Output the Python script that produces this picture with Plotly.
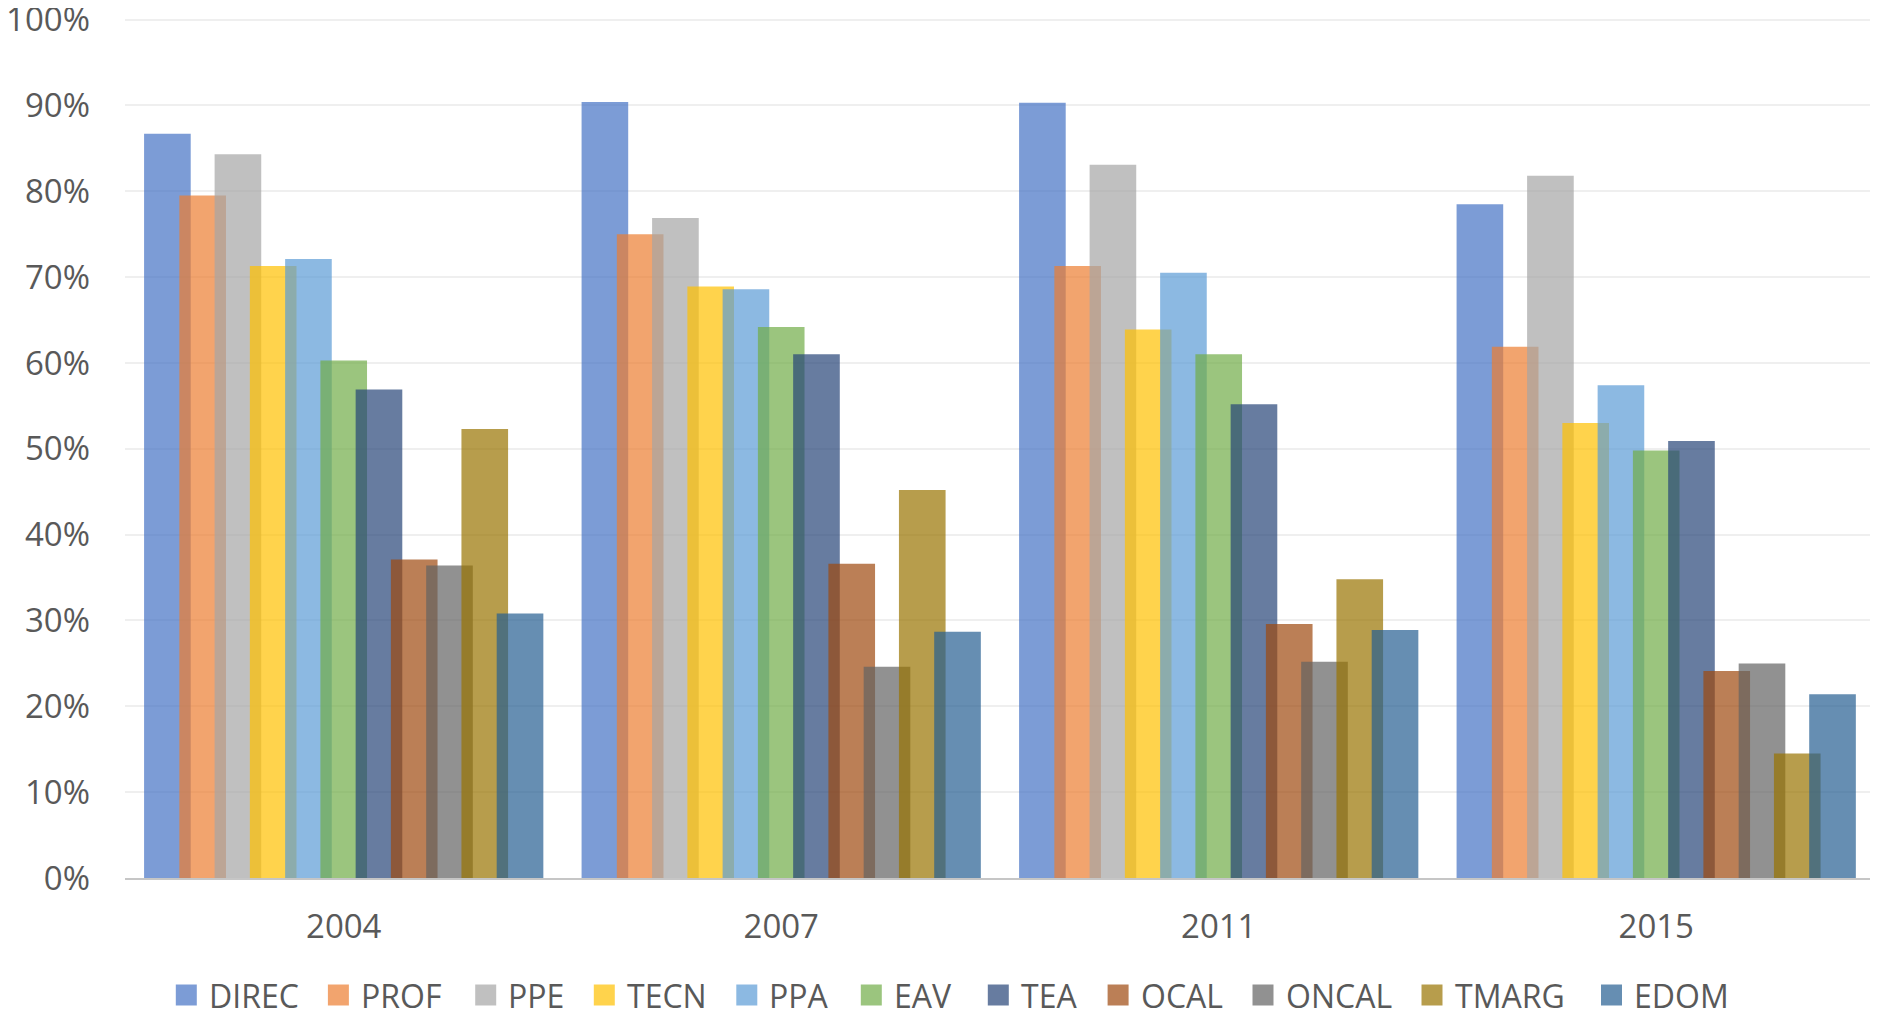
import plotly.graph_objects as go

years = ["2004", "2007", "2011", "2015"]
series_names = ["DIREC", "PROF", "PPE", "TECN", "PPA", "EAV", "TEA", "OCAL", "ONCAL", "TMARG", "EDOM"]

DIREC = [0.867, 0.904, 0.903, 0.785]
PROF = [0.795, 0.750, 0.713, 0.619]
PPE = [0.843, 0.769, 0.831, 0.818]
TECN = [0.713, 0.689, 0.639, 0.530]
PPA = [0.721, 0.686, 0.705, 0.574]
EAV = [0.603, 0.642, 0.610, 0.498]
TEA = [0.569, 0.610, 0.552, 0.509]
OCAL = [0.371, 0.366, 0.296, 0.241]
ONCAL = [0.364, 0.246, 0.252, 0.250]
TMARG = [0.523, 0.452, 0.348, 0.145]
EDOM = [0.308, 0.287, 0.289, 0.214]

series_values = [DIREC, PROF, PPE, TECN, PPA, EAV, TEA, OCAL, ONCAL, TMARG, EDOM]

colors = ["#4472C4", "#ED7D31", "#A5A5A5", "#FFC000", "#5B9BD5", "#70AD47",
          "#264478", "#9E480E", "#636363", "#997300", "#255E91"]

y_ticks = [0, 0.1, 0.2, 0.3, 0.4, 0.5, 0.6, 0.7, 0.8, 0.9, 1.0]
y_ticklabels = ["0%", "10%", "20%", "30%", "40%", "50%", "60%", "70%", "80%", "90%", "100%"]

# ---- layout / style constants ----
FONT = "Open Sans"
TXT = "#595959"
ALPHA = 0.7

# page has an 8px body margin, so the figure is sized to fill the rest
W, H = 1870, 1005
ML, MR, MT, MB = 117, 3, 3, 135
PW = W - ML - MR
PH = H - MT - MB
Y_TOP = 1.01

bar_w = 0.1066
step = 0.0806
start = -0.4564

# legend entry left edges (pixels, page coords) and geometry
legend_left_px = [175.8, 327.9, 475.2, 593.8, 736.3, 860.8, 987.8, 1107.6, 1252.5, 1421.5, 1601.0]
SQ = 21
TEXT_GAP = 10
LEG_CY = 995 - 8  # centre of legend row (figure coords)


def px_to_paper_x(px_page):
    return (px_page - 8 - ML) / PW


def py_to_paper_y(py_fig):
    return (H - MB - py_fig) / PH


fig = go.Figure()
for i, (name, vals, col) in enumerate(zip(series_names, series_values, colors)):
    fig.add_trace(go.Bar(
        x=years, y=vals, name=name,
        marker=dict(color=col, line=dict(width=0)),
        opacity=ALPHA,
        width=bar_w,
        offset=start + i * step,
        showlegend=False,
    ))

shapes = []
annotations = []
for name, col, lx in zip(series_names, colors, legend_left_px):
    shapes.append(dict(
        type="rect", xref="paper", yref="paper",
        x0=px_to_paper_x(lx), x1=px_to_paper_x(lx + SQ),
        y0=py_to_paper_y(LEG_CY + SQ / 2), y1=py_to_paper_y(LEG_CY - SQ / 2),
        fillcolor=col, opacity=ALPHA, line=dict(width=0),
    ))
    annotations.append(dict(
        text=name, xref="paper", yref="paper",
        x=px_to_paper_x(lx + SQ + TEXT_GAP), y=py_to_paper_y(LEG_CY),
        xanchor="left", yanchor="middle", showarrow=False,
        font=dict(family=FONT, size=32, color=TXT),
    ))

fig.update_layout(
    width=W, height=H,
    barmode="overlay",
    paper_bgcolor="white", plot_bgcolor="white",
    margin=dict(l=ML, r=MR, t=MT, b=MB, autoexpand=False),
    font=dict(family=FONT, size=33, color=TXT),
    showlegend=False,
    shapes=shapes,
    annotations=annotations,
    xaxis=dict(
        type="category", categoryorder="array", categoryarray=years,
        showgrid=False, showline=True, linecolor="#C6C6C6", linewidth=2,
        ticks="", ticklabelstandoff=18, automargin=False,
        tickfont=dict(family=FONT, size=33, color=TXT),
    ),
    yaxis=dict(
        range=[0, Y_TOP], tickvals=y_ticks, ticktext=y_ticklabels,
        showgrid=True, gridcolor="#EFEFEF", gridwidth=2,
        zeroline=False, showline=False, ticks="", ticklabelstandoff=34,
        ticklabeloverflow="allow", automargin=False,
        tickfont=dict(family=FONT, size=33, color=TXT),
    ),
)

fig.write_html("out.html")
